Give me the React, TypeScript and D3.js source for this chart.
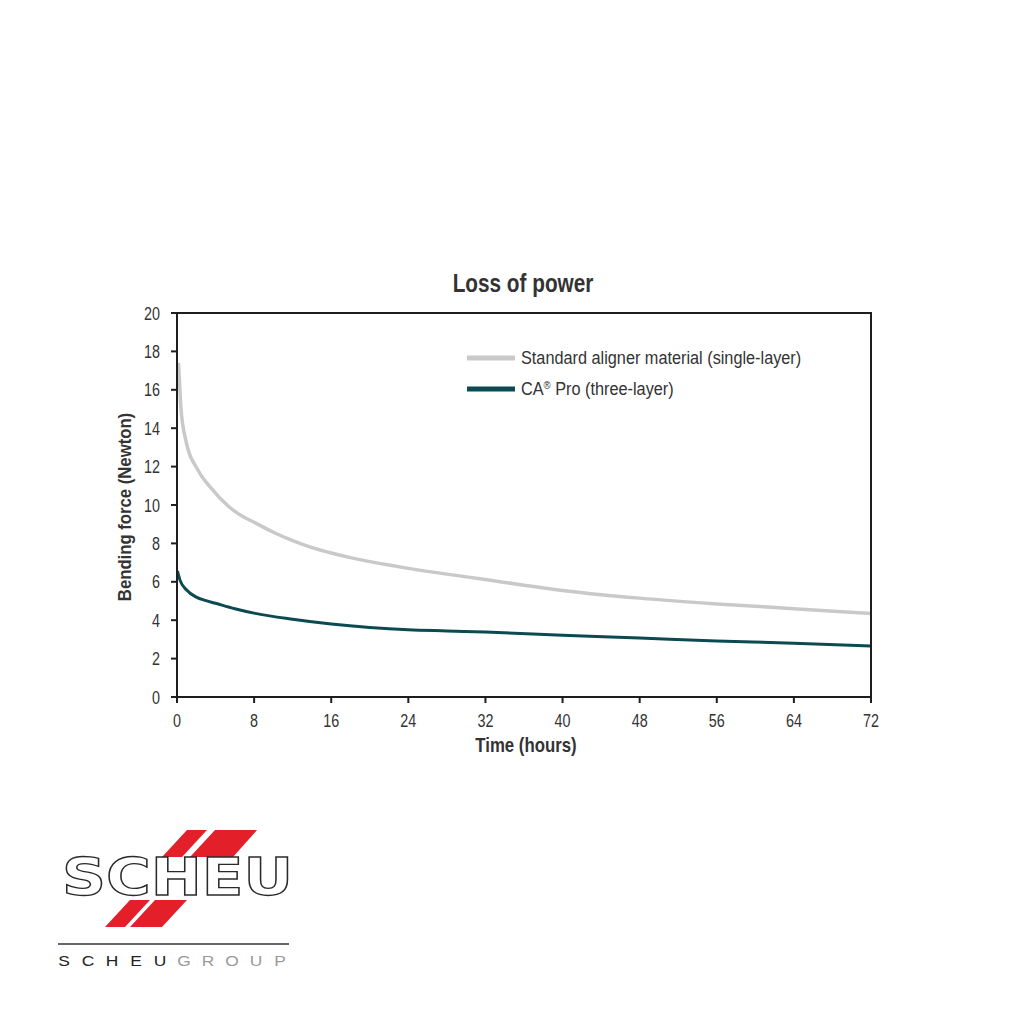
import React from 'react';
import * as d3 from 'd3';

// hours vs bending force (N)
const standardTime = [0.15, 0.25, 0.4, 0.9, 2.2, 3.5, 5.3, 6.5, 8, 10, 12, 14, 16, 18, 20, 22, 24, 28, 32, 36, 40, 44, 48, 56, 64, 72];
const standardForce = [17.4, 16.5, 15.1, 13.4, 11.8, 10.9, 9.95, 9.5, 9.1, 8.58, 8.14, 7.78, 7.5, 7.26, 7.05, 6.87, 6.7, 6.4, 6.12, 5.82, 5.55, 5.33, 5.15, 4.85, 4.6, 4.35];

const proTime = [0.05, 0.3, 1, 2, 3, 4, 6, 8, 12, 16, 20, 24, 28, 32, 40, 48, 56, 64, 72];
const proForce = [6.55, 6.1, 5.57, 5.2, 5.02, 4.88, 4.6, 4.37, 4.05, 3.8, 3.62, 3.5, 3.44, 3.38, 3.22, 3.07, 2.92, 2.8, 2.65];

const xTicks = [0, 8, 16, 24, 32, 40, 48, 56, 64, 72];
const yTicks = [0, 2, 4, 6, 8, 10, 12, 14, 16, 18, 20];

const legendLabels = ['Standard aligner material (single-layer)', 'CA® Pro (three-layer)'];
const seriesColors = ['#c9c9c9', '#0c4a52'];

const FONT = '"Liberation Sans", Arial, sans-serif';
const TEXT = '#333333';

// the source uses a condensed grotesque; squeeze Liberation Sans horizontally
const CText: React.FC<{
  x: number;
  y: number;
  size: number;
  sx?: number;
  anchor?: 'start' | 'middle' | 'end';
  bold?: boolean;
  rotate?: number;
  children: React.ReactNode;
}> = ({ x, y, size, sx = 0.82, anchor = 'start', bold = false, rotate = 0, children }) => (
  <text
    transform={`translate(${x},${y}) rotate(${rotate}) scale(${sx},1)`}
    textAnchor={anchor}
    fontFamily={FONT}
    fontWeight={bold ? 'bold' : 'normal'}
    fontSize={size}
    fill={TEXT}
  >
    {children}
  </text>
);

// put the ® sign up as a small superscript
const withReg = (label: string) => {
  const parts = label.split('®');
  if (parts.length === 1) return label;
  return (
    <>
      {parts[0]}
      <tspan fontSize={11} dy={-6}>®</tspan>
      <tspan dy={6}>{parts[1]}</tspan>
    </>
  );
};

const App: React.FC = () => {
  const margin = { left: 177, right: 871, top: 313, bottom: 697 };
  const x = d3.scaleLinear().domain([0, 72]).range([margin.left, margin.right]);
  const y = d3.scaleLinear().domain([0, 20]).range([margin.bottom, margin.top]);

  const line = d3
    .line<[number, number]>()
    .x(d => x(d[0]))
    .y(d => y(d[1]))
    .curve(d3.curveMonotoneX);

  const standardPts = standardTime.map((t, i) => [t, standardForce[i]] as [number, number]);
  const proPts = proTime.map((t, i) => [t, proForce[i]] as [number, number]);

  const groupLetters = 'SCHEUGROUP'.split('');

  return (
    <svg width={1024} height={1024} style={{ position: 'absolute', left: 0, top: 0, background: '#fff' }}>
      <rect width={1024} height={1024} fill="#fff" />

      <CText x={523} y={292} size={25} sx={0.83} anchor="middle" bold>
        Loss of power
      </CText>

      {/* series */}
      <path d={line(standardPts) || ''} fill="none" stroke={seriesColors[0]} strokeWidth={3.5} />
      <path d={line(proPts) || ''} fill="none" stroke={seriesColors[1]} strokeWidth={3} />

      {/* frame */}
      <rect
        x={margin.left}
        y={margin.top}
        width={margin.right - margin.left}
        height={margin.bottom - margin.top}
        fill="none"
        stroke="#1e1e1e"
        strokeWidth={2}
      />

      {/* y axis */}
      {yTicks.map(t => (
        <g key={'y' + t}>
          <line x1={margin.left - 6} x2={margin.left} y1={y(t)} y2={y(t)} stroke="#1e1e1e" strokeWidth={2} />
          <CText x={160} y={y(t) + 6.5} size={17.5} anchor="end">
            {t}
          </CText>
        </g>
      ))}

      {/* x axis */}
      {xTicks.map(t => (
        <g key={'x' + t}>
          <line x1={x(t)} x2={x(t)} y1={margin.bottom} y2={margin.bottom + 6} stroke="#1e1e1e" strokeWidth={2} />
          <CText x={x(t)} y={727} size={17.5} anchor="middle">
            {t}
          </CText>
        </g>
      ))}

      <CText x={526} y={752} size={20} sx={0.84} anchor="middle" bold>
        Time (hours)
      </CText>
      <CText x={131} y={507} size={19} sx={0.88} anchor="middle" bold rotate={-90}>
        Bending force (Newton)
      </CText>

      {/* legend */}
      {legendLabels.map((label, i) => (
        <g key={label}>
          <line x1={467} x2={515} y1={358 + i * 31} y2={358 + i * 31} stroke={seriesColors[i]} strokeWidth={5} />
          <CText x={521} y={363.5 + i * 31} size={18.5} sx={0.88}>
            {withReg(label)}
          </CText>
        </g>
      ))}

      {/* logo */}
      <g>
        <polygon points="187,830 207,830 182,857 162,857" fill="#e3202a" />
        <polygon points="215,830 257,830 233,857 190,857" fill="#e3202a" />
        <polygon points="130,900 150,900 125,927 105,927" fill="#e3202a" />
        <polygon points="155,900 187,900 162,927 130,927" fill="#e3202a" />
        <text
          x={62}
          y={895}
          textLength={231}
          lengthAdjust="spacingAndGlyphs"
          fontFamily='"DejaVu Sans", sans-serif'
          fontWeight="bold"
          fontSize={51}
          fill="#fff"
          stroke="#2a2a2a"
          strokeWidth={1.3}
        >
          SCHEU
        </text>
        <line x1={58} x2={289} y1={944} y2={944} stroke="#333" strokeWidth={1.3} />
        {groupLetters.map((ch, i) => (
          <text
            key={i}
            transform={`translate(${64 + i * 24},966) scale(1.2,1)`}
            textAnchor="middle"
            fontFamily='"Liberation Sans", Arial, sans-serif'
            fontSize={14.5}
            fill={i < 5 ? '#222' : '#9a9a9a'}
          >
            {ch}
          </text>
        ))}
      </g>
    </svg>
  );
};

export default App;
